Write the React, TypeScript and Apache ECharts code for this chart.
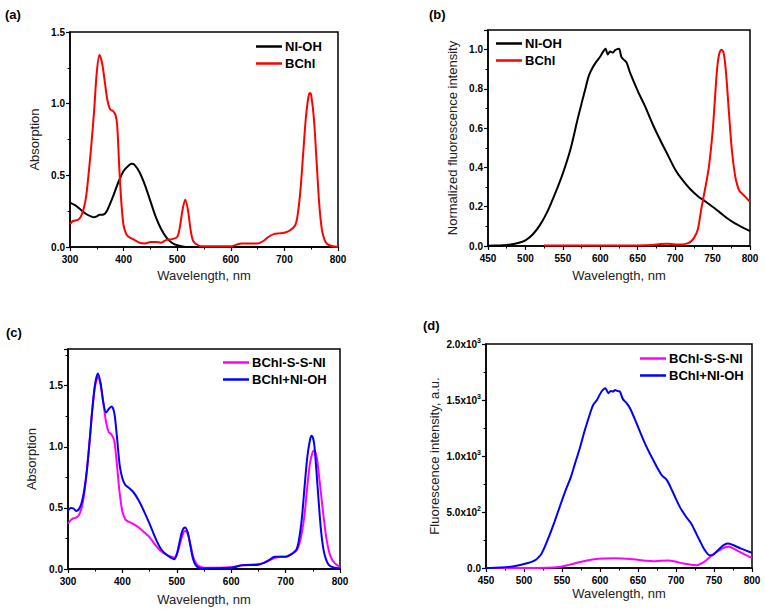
import React, { useEffect, useRef } from "react";
import * as echarts from "echarts";

// ---------- (a) absorption ----------
const aNIOH_x = [300, 310, 320, 330, 340, 345, 350, 355, 360, 365, 370, 380, 390, 400, 410, 415, 420, 430, 440, 450, 460, 470, 480, 490, 500, 510, 520, 600, 700, 800];
const aNIOH_y = [0.31, 0.29, 0.26, 0.23, 0.212, 0.208, 0.214, 0.225, 0.225, 0.232, 0.26, 0.35, 0.45, 0.53, 0.57, 0.58, 0.575, 0.52, 0.43, 0.32, 0.21, 0.125, 0.065, 0.03, 0.012, 0.004, 0, 0, 0, 0];
const aBChl_x = [300, 305, 310, 315, 320, 325, 330, 335, 340, 345, 350, 355, 360, 365, 370, 375, 380, 385, 388, 392, 396, 400, 405, 410, 420, 430, 440, 450, 460, 470, 480, 490, 500, 505, 510, 515, 520, 525, 530, 540, 550, 600, 610, 620, 630, 650, 660, 670, 680, 690, 700, 710, 720, 725, 730, 735, 740, 745, 748, 750, 755, 760, 765, 770, 775, 780, 790, 800];
const aBChl_y = [0.16, 0.18, 0.185, 0.19, 0.21, 0.26, 0.35, 0.52, 0.72, 0.95, 1.22, 1.34, 1.28, 1.15, 1.02, 0.96, 0.95, 0.92, 0.85, 0.55, 0.3, 0.15, 0.09, 0.07, 0.05, 0.03, 0.025, 0.035, 0.035, 0.03, 0.05, 0.055, 0.07, 0.14, 0.26, 0.33, 0.26, 0.12, 0.04, 0.01, 0.005, 0.005, 0.015, 0.025, 0.025, 0.025, 0.04, 0.07, 0.09, 0.095, 0.1, 0.115, 0.15, 0.23, 0.4, 0.65, 0.9, 1.05, 1.075, 1.06, 0.9, 0.6, 0.3, 0.12, 0.05, 0.02, 0.005, 0];

// ---------- (b) normalized fluorescence ----------
const bNIOH_x = [450, 460, 470, 480, 490, 500, 510, 520, 530, 540, 550, 560, 570, 580, 585, 590, 595, 600, 603, 607, 610, 613, 617, 620, 625, 628, 631, 635, 640, 650, 660, 670, 680, 690, 700, 710, 720, 730, 740, 750, 760, 770, 780, 790, 800];
const bNIOH_y = [0.001, 0.002, 0.004, 0.008, 0.015, 0.029, 0.06, 0.11, 0.18, 0.27, 0.37, 0.49, 0.65, 0.8, 0.87, 0.91, 0.94, 0.965, 0.985, 1.005, 0.975, 0.99, 0.985, 0.998, 1.005, 0.965, 0.95, 0.935, 0.88, 0.79, 0.71, 0.62, 0.54, 0.465, 0.39, 0.335, 0.29, 0.255, 0.228, 0.2, 0.17, 0.14, 0.115, 0.095, 0.076];
const bBChl_x = [525, 550, 600, 650, 670, 680, 690, 700, 710, 715, 720, 725, 730, 735, 740, 745, 750, 753, 756, 759, 762, 765, 768, 770, 773, 776, 780, 783, 786, 790, 795, 800];
const bBChl_y = [0.003, 0.003, 0.003, 0.003, 0.005, 0.01, 0.012, 0.008, 0.008, 0.012, 0.02, 0.04, 0.08, 0.19, 0.29, 0.4, 0.58, 0.74, 0.9, 0.98, 1.0, 0.98, 0.88, 0.78, 0.62, 0.48, 0.36, 0.31, 0.28, 0.265, 0.245, 0.225];

// ---------- (c) absorption of conjugate vs mixture ----------
const cSSNI_x = [300, 305, 310, 315, 320, 325, 330, 335, 340, 345, 350, 355, 360, 365, 370, 375, 380, 385, 390, 395, 400, 405, 410, 420, 430, 440, 450, 460, 470, 480, 490, 495, 500, 505, 510, 515, 520, 525, 530, 535, 540, 550, 600, 620, 650, 660, 670, 680, 690, 700, 710, 720, 725, 730, 735, 740, 745, 750, 753, 757, 760, 765, 770, 775, 780, 785, 790, 795, 800];
const cSSNI_y = [0.37, 0.4, 0.415, 0.42, 0.44, 0.5, 0.62, 0.82, 1.06, 1.32, 1.5, 1.57, 1.5, 1.36, 1.2, 1.12, 1.1, 1.05, 0.85, 0.62, 0.47, 0.41, 0.39, 0.37, 0.34, 0.3, 0.26, 0.2, 0.15, 0.12, 0.1, 0.095, 0.12, 0.19, 0.27, 0.31, 0.29, 0.2, 0.1, 0.05, 0.025, 0.01, 0.015, 0.03, 0.04, 0.05, 0.07, 0.09, 0.1, 0.1, 0.12, 0.15, 0.2, 0.3, 0.45, 0.68, 0.87, 0.96, 0.97, 0.92, 0.82, 0.62, 0.42, 0.25, 0.14, 0.08, 0.05, 0.03, 0.015];
const cMix_x = [300, 305, 310, 315, 320, 325, 330, 335, 340, 345, 350, 355, 360, 365, 370, 375, 380, 385, 390, 395, 400, 405, 410, 420, 430, 440, 450, 460, 470, 480, 490, 495, 500, 505, 510, 515, 520, 525, 530, 535, 540, 550, 600, 620, 650, 660, 670, 680, 690, 700, 710, 720, 725, 730, 735, 740, 745, 748, 752, 755, 760, 765, 770, 775, 780, 790, 800];
const cMix_y = [0.48, 0.5, 0.495, 0.475, 0.49, 0.54, 0.65, 0.82, 1.06, 1.32, 1.52, 1.6, 1.52, 1.36, 1.28, 1.31, 1.33, 1.28, 1.08, 0.85, 0.74, 0.69, 0.67, 0.63, 0.56, 0.47, 0.37, 0.26, 0.17, 0.12, 0.09, 0.08, 0.12, 0.22, 0.31, 0.34, 0.3, 0.19, 0.08, 0.03, 0.01, 0.005, 0.01, 0.03, 0.035, 0.05, 0.075, 0.1, 0.1, 0.1, 0.12, 0.16, 0.25, 0.42, 0.68, 0.92, 1.06, 1.09, 1.04, 0.9, 0.6, 0.32, 0.15, 0.07, 0.03, 0.01, 0.005];

// ---------- (d) fluorescence intensity ----------
const dSSNI_x = [450, 500, 530, 545, 560, 574, 590, 605, 620, 640, 660, 670, 680, 690, 700, 710, 720, 727, 735, 745, 755, 766, 770, 775, 785, 797, 800];
const dSSNI_y = [0, 0, 2, 8, 30, 54, 75, 85, 86, 80, 65, 60, 65, 68, 55, 40, 28, 25, 45, 100, 150, 188, 190, 175, 140, 100, 90];
const dMix_x = [450, 470, 480, 490, 500, 510, 515, 519, 523, 528, 534, 540, 547, 554, 561, 567, 574, 580, 587, 591, 596, 602, 607, 611, 614, 617, 620, 623, 626, 630, 635, 640, 650, 660, 670, 681, 688, 695, 705, 713, 720, 725, 731, 737, 744, 748, 753, 760, 768, 775, 785, 797, 800];
const dMix_y = [0, 5, 10, 20, 35, 55, 70, 95, 128, 200, 300, 410, 546, 680, 800, 930, 1083, 1230, 1382, 1456, 1500, 1576, 1606, 1561, 1580, 1575, 1590, 1580, 1576, 1510, 1472, 1420, 1260, 1100, 964, 830, 785, 690, 546, 460, 397, 330, 248, 170, 114, 115, 143, 190, 218, 205, 175, 143, 137];

const zip = (xs: number[], ys: number[]) => xs.map((x, i) => [x, ys[i]]);

const FONT = "'Liberation Sans', Arial, sans-serif";

function App() {
  const ref = useRef<HTMLDivElement>(null);
  useEffect(() => {
    if (!ref.current) return;
    const chart = echarts.init(ref.current, undefined, { renderer: "svg" });

    const tickLabel = {
      color: "#000",
      fontWeight: "bold" as const,
      fontSize: 10,
      fontFamily: FONT,
    };
    const nameStyle = { color: "#222", fontSize: 13, fontFamily: FONT };
    const axisLine = { show: true, onZero: false, lineStyle: { color: "#000", width: 1.5 } };
    const axisTick = { show: true, inside: false, length: 4, lineStyle: { color: "#000", width: 1.2 } };
    const minorTick = { show: true, splitNumber: 2, length: 2.5, lineStyle: { color: "#000", width: 1 } };

    const mkX = (gridIndex: number, min: number, max: number, interval: number, nameGap: number) => ({
      type: "value",
      gridIndex,
      min,
      max,
      interval,
      axisLine,
      axisTick,
      minorTick,
      splitLine: { show: false },
      axisLabel: { ...tickLabel, margin: 7 },
      name: "Wavelength, nm",
      nameLocation: "middle",
      nameGap,
      nameTextStyle: nameStyle,
    });
    const mkY = (gridIndex: number, max: number, interval: number, name: string, nameGap: number, formatter: any, extra: any = {}) => ({
      type: "value",
      gridIndex,
      min: 0,
      max,
      interval,
      axisLine,
      axisTick,
      minorTick,
      splitLine: { show: false },
      axisLabel: { ...tickLabel, margin: 5, formatter, ...extra },
      name,
      nameLocation: "middle",
      nameGap,
      nameTextStyle: nameStyle,
    });

    const fix1 = (v: number) => v.toFixed(1);
    const sci = (v: number) => {
      if (v === 0) return "0.0";
      const e = Math.floor(Math.log10(v) + 1e-9);
      const m = v / Math.pow(10, e);
      return `{m|${m.toFixed(1)}x10}{e|${e}}`;
    };

    const line = (name: string, color: string, xi: number, data: number[][]) => ({
      type: "line",
      name,
      xAxisIndex: xi,
      yAxisIndex: xi,
      data,
      symbol: "none",
      smooth: 0.3,
      lineStyle: { color, width: 2 },
      itemStyle: { color },
      clip: true,
    });

    const legend = (left: number, top: number, data: string[]) => ({
      orient: "vertical",
      left,
      top,
      padding: 0,
      itemGap: 4,
      itemWidth: 26,
      itemHeight: 2.5,
      icon: "rect",
      data,
      selectedMode: false,
      textStyle: { color: "#000", fontWeight: "bold", fontSize: 13, fontFamily: FONT, padding: [0, 0, 0, -2] },
    });

    const gridStyle = { show: true, borderColor: "#000", borderWidth: 1.5, backgroundColor: "transparent" };

    const panelLabel = (text: string, left: number, top: number) => ({
      type: "text",
      left,
      top,
      style: { text, font: `bold 13px ${FONT}`, fill: "#000" },
    });

    chart.setOption({
      animation: false,
      backgroundColor: "#fff",
      grid: [
        { left: 70, right: 427, top: 32, bottom: 365, ...gridStyle },
        { left: 488, right: 15, top: 30, bottom: 366, ...gridStyle },
        { left: 68, right: 425, top: 349, bottom: 43, ...gridStyle },
        { left: 486, right: 13, top: 344, bottom: 44, ...gridStyle },
      ],
      xAxis: [
        mkX(0, 300, 800, 100, 22),
        mkX(1, 450, 800, 50, 22.5),
        mkX(2, 300, 800, 100, 23.5),
        mkX(3, 450, 800, 50, 18.5),
      ],
      yAxis: [
        mkY(0, 1.5, 0.5, "Absorption", 29.5, fix1),
        mkY(1, 1.1, 0.2, "Normalized fluorescence intensity", 29.5, fix1, { showMaxLabel: false }),
        mkY(2, 1.8, 0.5, "Absorption", 30.5, fix1, { showMaxLabel: false }),
        mkY(3, 2000, 500, "Fluorescence intensity, a.u.", 45.5, sci, {
          rich: {
            m: { fontSize: 10, fontWeight: "bold", fontFamily: FONT, color: "#000" },
            e: { fontSize: 7, fontWeight: "bold", fontFamily: FONT, color: "#000", verticalAlign: "top", padding: [0, 0, 7, 0] },
          },
        }),
      ],
      legend: [
        legend(256, 40, ["NI-OH", "BChl"]),
        legend(496, 37, ["NI-OH", "BChl"]),
        legend(223, 356, ["BChl-S-S-NI", "BChl+NI-OH"]),
        legend(640, 352, ["BChl-S-S-NI", "BChl+NI-OH"]),
      ],
      graphic: [
        panelLabel("(a)", 5, 8),
        panelLabel("(b)", 429, 8),
        panelLabel("(c)", 6, 326),
        panelLabel("(d)", 423, 319),
      ],
      series: [
        line("NI-OH", "#000000", 0, zip(aNIOH_x, aNIOH_y)),
        line("BChl", "#ff0000", 0, zip(aBChl_x, aBChl_y)),
        line("NI-OH", "#000000", 1, zip(bNIOH_x, bNIOH_y)),
        line("BChl", "#ff0000", 1, zip(bBChl_x, bBChl_y)),
        line("BChl-S-S-NI", "#ff00ff", 2, zip(cSSNI_x, cSSNI_y)),
        line("BChl+NI-OH", "#0000ff", 2, zip(cMix_x, cMix_y)),
        line("BChl-S-S-NI", "#ff00ff", 3, zip(dSSNI_x, dSSNI_y)),
        line("BChl+NI-OH", "#0000ff", 3, zip(dMix_x, dMix_y)),
      ],
    });
    return () => chart.dispose();
  }, []);

  return (
    <div
      ref={ref}
      style={{ position: "fixed", left: 0, top: 0, width: 765, height: 612, background: "#fff" }}
    />
  );
}

export default App;
